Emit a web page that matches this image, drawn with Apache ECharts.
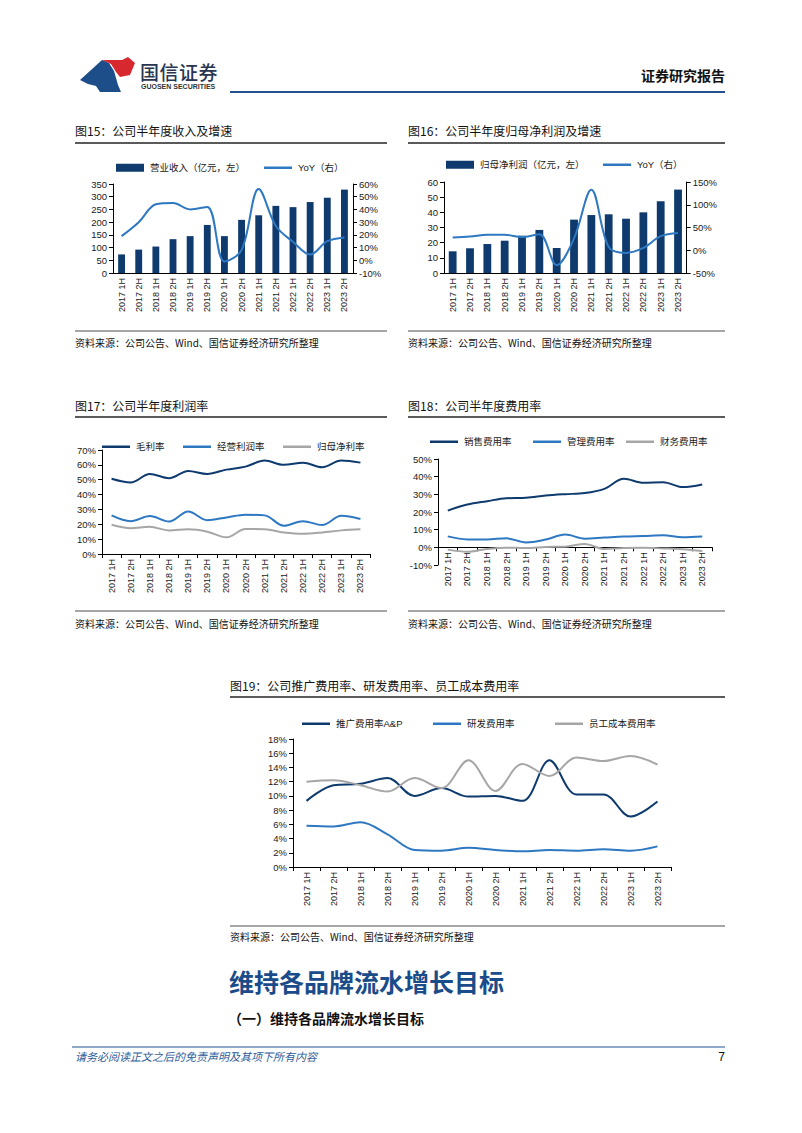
<!DOCTYPE html>
<html>
<head>
<meta charset="utf-8">
<script src="https://cdn.jsdelivr.net/npm/echarts/dist/echarts.min.js"></script>
<style>
  html, body { margin: 0; padding: 0; background: #fff; }
  body { width: 802px; height: 1133px; position: relative; overflow: hidden;
         font-family: "Noto Sans CJK SC", "Liberation Sans", sans-serif; color: #111; }
  .abs { position: absolute; white-space: nowrap; line-height: 1; }
  .rule { position: absolute; }
  .chart { position: absolute; }
  .ttl { font-size: 12px; color: #111; }
  .src { font-size: 10px; color: #111; }
</style>
</head>
<body>
<script>
// ---------- data ----------
const categories = ['2017 1H','2017 2H','2018 1H','2018 2H','2019 1H','2019 2H','2020 1H','2020 2H','2021 1H','2021 2H','2022 1H','2022 2H','2023 1H','2023 2H'];

// Fig 15
const revenue    = [73, 92, 104, 133, 145, 189, 145, 209, 227, 264, 259, 279, 296, 328];
const revenueYoY = [19, 30, 44, 45, 40, 42, -1, 8, 56, 27, 14.5, 4.5, 15, 18];
const revTicksLeft  = [0, 350, 50];
const revTicksRight = [-10, 60, 10];

// Fig 16
const netProfit    = [14.3, 16.3, 19.1, 21.3, 24.6, 28.4, 16.5, 35.2, 38.2, 38.7, 35.8, 40, 47.3, 55];
const netProfitYoY = [28, 30, 34, 34, 29, 35, -33, 26, 133, 7, -6, 5, 31, 38];
const npTicksLeft  = [0, 60, 10];
const npTicksRight = [-50, 150, 50];

// Fig 17
const grossMargin = [50.6, 48.1, 53.9, 51, 55.9, 53.9, 56.8, 58.8, 62.9, 60, 61.5, 58.4, 62.9, 61.5];
const opMargin    = [26, 22.1, 25.5, 21.9, 28.6, 22.8, 24.6, 26.4, 26, 19, 22.1, 19.5, 25.7, 23.5];
const netMargin   = [19.7, 17.4, 18.3, 15.9, 16.6, 15, 11.2, 16.8, 16.6, 14.5, 13.6, 14.5, 15.9, 16.6];
const marginTicks = [0, 70, 10];

// Fig 18
const sellingRate = [20.8, 24.2, 26.1, 27.8, 28, 29.3, 30.1, 30.7, 33.1, 38.8, 36.5, 36.9, 34.1, 35.6];
const adminRate   = [6.2, 4.5, 4.5, 5.1, 2.8, 4.4, 7.2, 4.9, 5.5, 6.1, 6.4, 6.8, 5.7, 6.1];
const financeRate = [-1.3, -2.5, -0.9, -0.2, -0.4, 0.2, 0.4, 1.9, -0.9, -0.4, -0.2, -0.6, -1.1, -2.1];
const expTicks = [-10, 50, 10];

// Fig 19
const apRate    = [9.3, 11.5, 11.7, 12.5, 10, 11.1, 9.9, 10, 9.3, 15, 10.2, 10.2, 7.1, 9.2];
const rdRate    = [5.8, 5.7, 6.3, 4.6, 2.4, 2.3, 2.7, 2.4, 2.2, 2.4, 2.3, 2.5, 2.3, 2.9];
const staffRate = [12, 12.2, 11.5, 10.6, 12.5, 11.1, 15, 10.7, 14.5, 12.8, 15.4, 14.9, 15.6, 14.4];
const costTicks = [0, 18, 2];
</script>

<!-- header -->
<svg class="abs" style="left:78px;top:55px" width="62" height="42" viewBox="0 0 62 42">
  <path d="M2 25 L24 5 L31 8 L36 16 L40 30 L43 37 L22 37 L18 31 L10 29 Z" fill="#1E4E8A"/>
  <path d="M24 5 L44 5 L50 2 L57 8 L52 20 L42 22 L38 17 L33 9 Z" fill="#D7282F"/>
</svg>
<div class="abs" style="left:140px;top:62px;font-size:19px;font-weight:500;color:#2a3550;letter-spacing:0.5px;">国信证券</div>
<div class="abs" style="left:141px;top:83px;font-size:7px;font-weight:bold;color:#333;font-family:'Liberation Sans',sans-serif;">GUOSEN SECURITIES</div>
<div class="abs" style="right:77px;top:68px;font-size:14px;font-weight:bold;color:#111;">证券研究报告</div>
<div class="rule" style="left:230px;top:91px;width:495px;height:2px;background:#24508F;"></div>

<!-- fig 15 / 16 titles -->
<div class="abs ttl" style="left:75px;top:125px;">图15：公司半年度收入及增速</div>
<div class="rule" style="left:75px;top:142px;width:312px;height:2px;background:#5a5a5a;"></div>
<div class="abs ttl" style="left:408px;top:125px;">图16：公司半年度归母净利润及增速</div>
<div class="rule" style="left:408px;top:142px;width:317px;height:2px;background:#5a5a5a;"></div>

<div id="c15" class="chart" style="left:70px;top:150px;width:320px;height:180px;"></div>
<div id="c16" class="chart" style="left:400px;top:150px;width:320px;height:180px;"></div>

<div class="rule" style="left:75px;top:330px;width:312px;height:2px;background:#a6a6a6;"></div>
<div class="abs src" style="left:75px;top:338px;">资料来源：公司公告、Wind、国信证券经济研究所整理</div>
<div class="rule" style="left:408px;top:330px;width:317px;height:2px;background:#a6a6a6;"></div>
<div class="abs src" style="left:408px;top:338px;">资料来源：公司公告、Wind、国信证券经济研究所整理</div>

<!-- fig 17 / 18 -->
<div class="abs ttl" style="left:75px;top:400px;">图17：公司半年度利润率</div>
<div class="rule" style="left:75px;top:416px;width:312px;height:2px;background:#5a5a5a;"></div>
<div class="abs ttl" style="left:408px;top:400px;">图18：公司半年度费用率</div>
<div class="rule" style="left:408px;top:416px;width:317px;height:2px;background:#5a5a5a;"></div>

<div id="c17" class="chart" style="left:70px;top:435px;width:320px;height:170px;"></div>
<div id="c18" class="chart" style="left:400px;top:435px;width:320px;height:170px;"></div>

<div class="rule" style="left:75px;top:610px;width:312px;height:2px;background:#a6a6a6;"></div>
<div class="abs src" style="left:75px;top:619px;">资料来源：公司公告、Wind、国信证券经济研究所整理</div>
<div class="rule" style="left:408px;top:610px;width:317px;height:2px;background:#a6a6a6;"></div>
<div class="abs src" style="left:408px;top:619px;">资料来源：公司公告、Wind、国信证券经济研究所整理</div>

<!-- fig 19 -->
<div class="abs ttl" style="left:230px;top:680px;">图19：公司推广费用率、研发费用率、员工成本费用率</div>
<div class="rule" style="left:230px;top:696px;width:495px;height:2px;background:#5a5a5a;"></div>
<div id="c19" class="chart" style="left:230px;top:708px;width:470px;height:212px;"></div>
<div class="rule" style="left:230px;top:925px;width:495px;height:2px;background:#a6a6a6;"></div>
<div class="abs src" style="left:230px;top:932px;">资料来源：公司公告、Wind、国信证券经济研究所整理</div>

<!-- section text -->
<div class="abs" style="left:229px;top:969px;font-size:25px;font-weight:bold;color:#1B4C8A;">维持各品牌流水增长目标</div>
<div class="abs" style="left:228px;top:1011px;font-size:14px;font-weight:bold;color:#111;">（一）维持各品牌流水增长目标</div>

<!-- footer -->
<div class="rule" style="left:72px;top:1046px;width:653px;height:2px;background:#8FA8C6;"></div>
<div class="abs" style="left:75px;top:1051px;font-size:11px;font-style:italic;color:#2E5C9A;">请务必阅读正文之后的免责声明及其项下所有内容</div>
<div class="abs" style="right:77px;top:1051px;font-size:12px;color:#111;font-family:'Liberation Sans',sans-serif;">7</div>

<script>
const F = '"Liberation Sans", Arial, "Noto Sans CJK SC", sans-serif';
const NAVY = '#0E3A6E';
const BLUE = '#2E78C2';
const GREY = '#A6A6A6';
const LBL = '#1a1a1a';

function xCat(opts) {
  return Object.assign({
    type: 'category', data: categories, boundaryGap: true,
    axisLine: { show: true, onZero: false, lineStyle: { color: '#000', width: 1 } },
    axisTick: { show: true, interval: 0, length: 4, lineStyle: { color: '#000' } },
    axisLabel: { rotate: 90, interval: 0, fontSize: 9, color: LBL, margin: 5, fontFamily: F }
  }, opts || {});
}
function yVal(t, pct, pos, opts) {
  return Object.assign({
    type: 'value', min: t[0], max: t[1], interval: t[2], position: pos || 'left',
    splitLine: { show: false },
    axisLine: { show: true, lineStyle: { color: '#000', width: 1 } },
    axisTick: { show: true, length: 4, lineStyle: { color: '#000' } },
    axisLabel: { fontSize: 9.5, color: LBL, margin: 6, fontFamily: F,
                 formatter: pct ? '{value}%' : '{value}' }
  }, opts || {});
}
function lg(name, left, top, h) {
  return { data: [name], left: left, top: top, icon: 'rect', itemWidth: 28, itemHeight: h,
           itemGap: 4, selectedMode: false, padding: 0,
           textStyle: { fontSize: 9.5, color: LBL, fontFamily: F, padding: [0, 0, 0, 1] } };
}
function line(name, data, color, yIdx) {
  return { type: 'line', name: name, data: data, yAxisIndex: yIdx || 0, smooth: 0.35,
           symbol: 'none', color: color, itemStyle: { color: color },
           lineStyle: { width: 2, color: color } };
}

// Fig 15
echarts.init(document.getElementById('c15'), null, { renderer: 'svg' }).setOption({
  animation: false, textStyle: { fontFamily: F },
  legend: [lg('营业收入（亿元，左）', 46, 13, 8), lg('YoY（右）', 194, 13, 2.5)],
  grid: { left: 43, top: 34, width: 240, height: 89 },
  xAxis: xCat({ axisTick: { show: false } }),
  yAxis: [yVal(revTicksLeft, false, 'left'), yVal(revTicksRight, true, 'right')],
  series: [
    { type: 'bar', name: '营业收入（亿元，左）', data: revenue, barWidth: '40%',
      color: NAVY, itemStyle: { color: NAVY } },
    line('YoY（右）', revenueYoY, BLUE, 1)
  ]
});

// Fig 16
echarts.init(document.getElementById('c16'), null, { renderer: 'svg' }).setOption({
  animation: false, textStyle: { fontFamily: F },
  legend: [lg('归母净利润（亿元，左）', 46, 10, 8), lg('YoY（右）', 203, 10, 2.5)],
  grid: { left: 44, top: 32, width: 248, height: 91 },
  xAxis: xCat({ axisTick: { show: false } }),
  yAxis: [yVal(npTicksLeft, false, 'left'), yVal(npTicksRight, true, 'right')],
  series: [
    { type: 'bar', name: '归母净利润（亿元，左）', data: netProfit, barWidth: '45%',
      color: NAVY, itemStyle: { color: NAVY } },
    line('YoY（右）', netProfitYoY, BLUE, 1)
  ]
});

// Fig 17
echarts.init(document.getElementById('c17'), null, { renderer: 'svg' }).setOption({
  animation: false, textStyle: { fontFamily: F },
  legend: [lg('毛利率', 32, 7, 2.5), lg('经营利润率', 113, 7, 2.5), lg('归母净利率', 213, 7, 2.5)],
  grid: { left: 32, top: 15, width: 268, height: 104 },
  xAxis: xCat(),
  yAxis: yVal(marginTicks, true, 'left'),
  series: [
    line('毛利率', grossMargin, NAVY),
    line('经营利润率', opMargin, BLUE),
    line('归母净利率', netMargin, GREY)
  ]
});

// Fig 18 : category axis sits on the 0% line (moved up by 10/60 of the grid height)
const g18H = 106;
echarts.init(document.getElementById('c18'), null, { renderer: 'svg' }).setOption({
  animation: false, textStyle: { fontFamily: F },
  legend: [lg('销售费用率', 30, 2, 2.5), lg('管理费用率', 133, 2, 2.5), lg('财务费用率', 226, 2, 2.5)],
  grid: { left: 38, top: 24, width: 274, height: g18H },
  xAxis: xCat({ offset: -g18H * (0 - expTicks[0]) / (expTicks[1] - expTicks[0]) }),
  yAxis: yVal(expTicks, true, 'left'),
  series: [
    line('销售费用率', sellingRate, NAVY),
    line('管理费用率', adminRate, BLUE),
    line('财务费用率', financeRate, GREY)
  ]
});

// Fig 19
echarts.init(document.getElementById('c19'), null, { renderer: 'svg' }).setOption({
  animation: false, textStyle: { fontFamily: F },
  legend: [lg('推广费用率A&P', 72, 11, 2.5), lg('研发费用率', 203, 11, 2.5), lg('员工成本费用率', 325, 11, 2.5)],
  grid: { left: 63, top: 31, width: 378, height: 128 },
  xAxis: xCat(),
  yAxis: yVal(costTicks, true, 'left'),
  series: [
    line('推广费用率A&P', apRate, NAVY),
    line('研发费用率', rdRate, BLUE),
    line('员工成本费用率', staffRate, GREY)
  ]
});
</script>
</body>
</html>
